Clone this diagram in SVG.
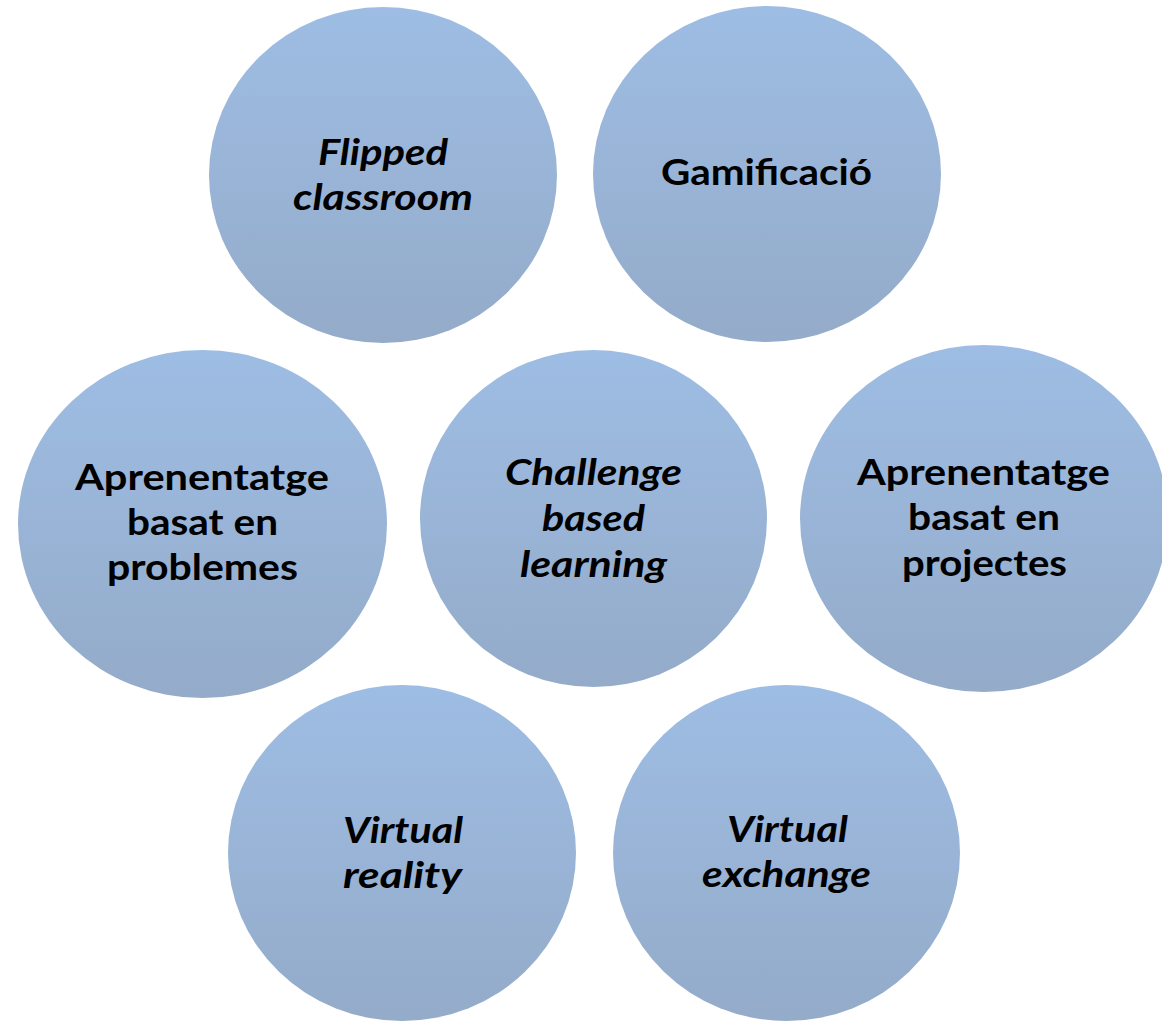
<svg xmlns="http://www.w3.org/2000/svg" width="1162" height="1021" viewBox="0 0 1162 1021">
  <style>
    .node { fill: url(#blueGrad); }
    .lbl { font-family: Lato, "Open Sans", "Noto Sans", sans-serif; font-weight: bold; font-size: 37px; fill: #000000; text-anchor: middle; }
    .it { font-style: italic; }
  </style>
  <defs>
    <linearGradient id="blueGrad" x1="0" y1="0" x2="0" y2="1">
      <stop offset="0" stop-color="#9ebde4"/>
      <stop offset="1" stop-color="#94abc9"/>
    </linearGradient>
  </defs>
  <rect x="0" y="0" width="1162" height="1021" fill="#ffffff"/>
  <g id="connectors"></g>
  <g id="node-flipped">
    <ellipse class="node" cx="383" cy="175" rx="174" ry="168"/>
    <text class="lbl it" x="383" y="165" textLength="130" lengthAdjust="spacingAndGlyphs">Flipped</text>
    <text class="lbl it" x="383" y="210" textLength="180" lengthAdjust="spacingAndGlyphs">classroom</text>
  </g>
  <g id="node-gamificacio">
    <ellipse class="node" cx="767" cy="174" rx="174" ry="168"/>
    <text class="lbl" x="766.5" y="185" textLength="211" lengthAdjust="spacingAndGlyphs">Gamificació</text>
  </g>
  <g id="node-problemes">
    <ellipse class="node" cx="202.5" cy="524" rx="184.5" ry="174"/>
    <text class="lbl" x="202" y="490" textLength="254" lengthAdjust="spacingAndGlyphs">Aprenentatge</text>
    <text class="lbl" x="202.5" y="535" textLength="151" lengthAdjust="spacingAndGlyphs">basat en</text>
    <text class="lbl" x="202.5" y="580" textLength="191" lengthAdjust="spacingAndGlyphs">problemes</text>
  </g>
  <g id="node-challenge">
    <ellipse class="node" cx="593.5" cy="518.5" rx="173.5" ry="168.5"/>
    <text class="lbl it" x="593.5" y="485" textLength="177" lengthAdjust="spacingAndGlyphs">Challenge</text>
    <text class="lbl it" x="593.5" y="531" textLength="103" lengthAdjust="spacingAndGlyphs">based</text>
    <text class="lbl it" x="593.5" y="577" textLength="147" lengthAdjust="spacingAndGlyphs">learning</text>
  </g>
  <g id="node-projectes">
    <ellipse class="node" cx="984" cy="518.5" rx="184" ry="173.5"/>
    <text class="lbl" x="983.5" y="485" textLength="253" lengthAdjust="spacingAndGlyphs">Aprenentatge</text>
    <text class="lbl" x="984" y="530" textLength="152" lengthAdjust="spacingAndGlyphs">basat en</text>
    <text class="lbl" x="984.5" y="576" textLength="165" lengthAdjust="spacingAndGlyphs">projectes</text>
  </g>
  <g id="node-virtual-reality">
    <ellipse class="node" cx="402" cy="853" rx="174" ry="168"/>
    <text class="lbl it" x="403" y="843" textLength="120" lengthAdjust="spacingAndGlyphs">Virtual</text>
    <text class="lbl it" x="402.5" y="888" textLength="119" lengthAdjust="spacingAndGlyphs">reality</text>
  </g>
  <g id="node-virtual-exchange">
    <ellipse class="node" cx="786.5" cy="853" rx="173.5" ry="168"/>
    <text class="lbl it" x="787.5" y="842" textLength="121" lengthAdjust="spacingAndGlyphs">Virtual</text>
    <text class="lbl it" x="786.5" y="887" textLength="169" lengthAdjust="spacingAndGlyphs">exchange</text>
  </g>
</svg>
